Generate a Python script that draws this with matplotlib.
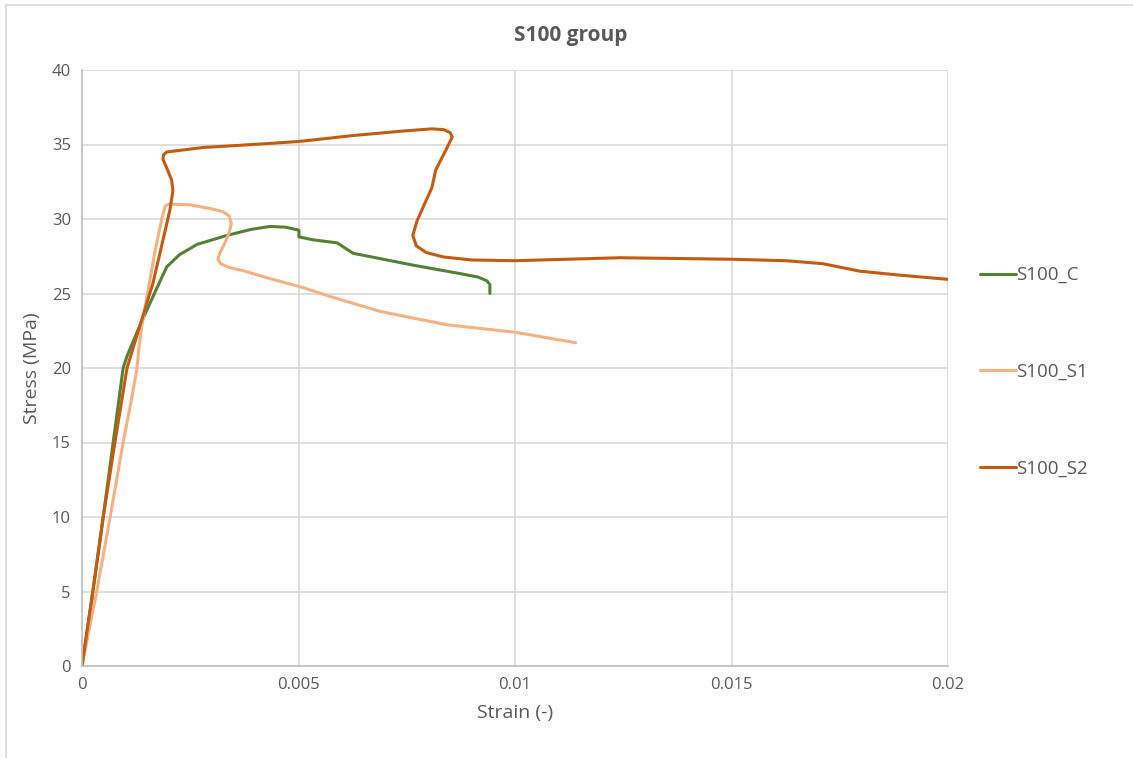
import matplotlib
matplotlib.use("Agg")
import matplotlib.pyplot as plt
from matplotlib.lines import Line2D

plt.rcParams['font.family'] = ['Open Sans', 'DejaVu Sans']

# ---- data ----
c_strain = [0, 0.00025, 0.00049, 0.00072, 0.00095, 0.00104, 0.0013, 0.0015, 0.00175, 0.00196,
            0.00225, 0.00266, 0.00335, 0.0039, 0.00434, 0.0047, 0.00501, 0.00501, 0.00534,
            0.00589, 0.00626, 0.00765, 0.0088, 0.00915, 0.00935, 0.00942, 0.00942]
c_stress = [0, 5, 10, 15, 20, 20.8, 22.6, 23.9, 25.5, 26.8,
            27.6, 28.3, 28.9, 29.3, 29.5, 29.45, 29.25, 28.8, 28.6,
            28.4, 27.7, 26.9, 26.3, 26.1, 25.85, 25.6, 25.0]

s1_strain = [0, 0.00034, 0.00065, 0.00095, 0.00115, 0.00127, 0.00132, 0.00138, 0.0015, 0.00169,
             0.00185, 0.00192, 0.002, 0.0025, 0.00296, 0.00325, 0.0034, 0.00345, 0.0034,
             0.0033, 0.00318, 0.00314, 0.0032, 0.0034, 0.0037, 0.00434, 0.0051, 0.00573,
             0.00688, 0.00843, 0.01, 0.0114]
s1_stress = [0, 5, 10, 15, 18, 20, 21.5, 22.8, 24.8, 27.9,
             30.1, 30.85, 31.0, 30.95, 30.7, 30.5, 30.2, 29.7, 29.1,
             28.4, 27.7, 27.3, 27.0, 26.75, 26.55, 26.0, 25.4, 24.8,
             23.8, 22.9, 22.4, 21.7]

s2_strain = [0, 0.00025, 0.00049, 0.00076, 0.00104, 0.00128, 0.00164, 0.00203, 0.0021, 0.00207,
             0.00199, 0.00187, 0.00188, 0.00196, 0.0028, 0.00395, 0.005, 0.00626, 0.0074,
             0.00808, 0.00835, 0.0085, 0.00855, 0.0084, 0.00817, 0.00808, 0.00774, 0.00764,
             0.00772, 0.00795, 0.00835, 0.009, 0.01, 0.01243, 0.01498, 0.01626, 0.01711,
             0.01796, 0.01882, 0.02]
s2_stress = [0, 5, 10, 15, 20, 22.3, 25.7, 30.6, 31.9, 32.6,
             33.2, 34.0, 34.3, 34.5, 34.8, 35.0, 35.2, 35.6, 35.9,
             36.05, 36.0, 35.8, 35.5, 34.6, 33.3, 32.1, 29.9, 28.9,
             28.2, 27.75, 27.45, 27.25, 27.2, 27.4, 27.3, 27.2, 27.0,
             26.5, 26.25, 25.95]

series_names = ["S100_C", "S100_S1", "S100_S2"]
x_ticks = [0, 0.005, 0.01, 0.015, 0.02]
x_tick_labels = ["0", "0.005", "0.01", "0.015", "0.02"]
y_ticks = [0, 5, 10, 15, 20, 25, 30, 35, 40]
y_tick_labels = ["0", "5", "10", "15", "20", "25", "30", "35", "40"]

colors = ["#548235", "#F4B183", "#C55A11"]
txt = "#595959"

fig = plt.figure(figsize=(11.33, 7.58), dpi=100)
ax = fig.add_axes([82/1133, 1-666/758, (948-82)/1133, (666-70)/758])

for xs, ys, name, col in zip([c_strain, s1_strain, s2_strain],
                             [c_stress, s1_stress, s2_stress], series_names, colors):
    ax.plot(xs, ys, color=col, lw=2.2, label=name, solid_joinstyle='round',
            solid_capstyle='round')

ax.set_xlim(0, 0.02)
ax.set_ylim(0, 40)
ax.set_xticks(x_ticks)
ax.set_xticklabels(x_tick_labels)
ax.set_yticks(y_ticks)
ax.set_yticklabels(y_tick_labels)
ax.grid(True, color="#D9D9D9", lw=1.2)
ax.set_axisbelow(True)
ax.tick_params(length=0, labelsize=12, colors=txt, pad=8)
for s in ["top", "right"]:
    ax.spines[s].set_visible(False)
for s in ["left", "bottom"]:
    ax.spines[s].set_color("#BFBFBF")
    ax.spines[s].set_linewidth(1.2)

ax.set_xlabel("Strain (-)", fontsize=14, color=txt, labelpad=8)
ax.set_ylabel("Stress (MPa)", fontsize=14, color=txt, labelpad=8)
fig.text(571/1133, 1-35/758, "S100 group", ha="center", va="center",
         fontsize=15, fontweight="bold", color=txt)

leg = fig.legend(loc="center left", bbox_to_anchor=(963/1133, 1-372/758),
                 frameon=False, fontsize=13.5, labelspacing=4.2, handlelength=1.9,
                 handletextpad=0.05, labelcolor=txt)

# chart-area border (left and top)
fig.add_artist(Line2D([6/1133, 6/1133], [0, 1-5/758], color="#D9D9D9", lw=1.2,
                      transform=fig.transFigure))
fig.add_artist(Line2D([6/1133, 1], [1-5/758, 1-5/758], color="#D9D9D9", lw=1.2,
                      transform=fig.transFigure))

fig.savefig("out.png", dpi=100, facecolor="white")
